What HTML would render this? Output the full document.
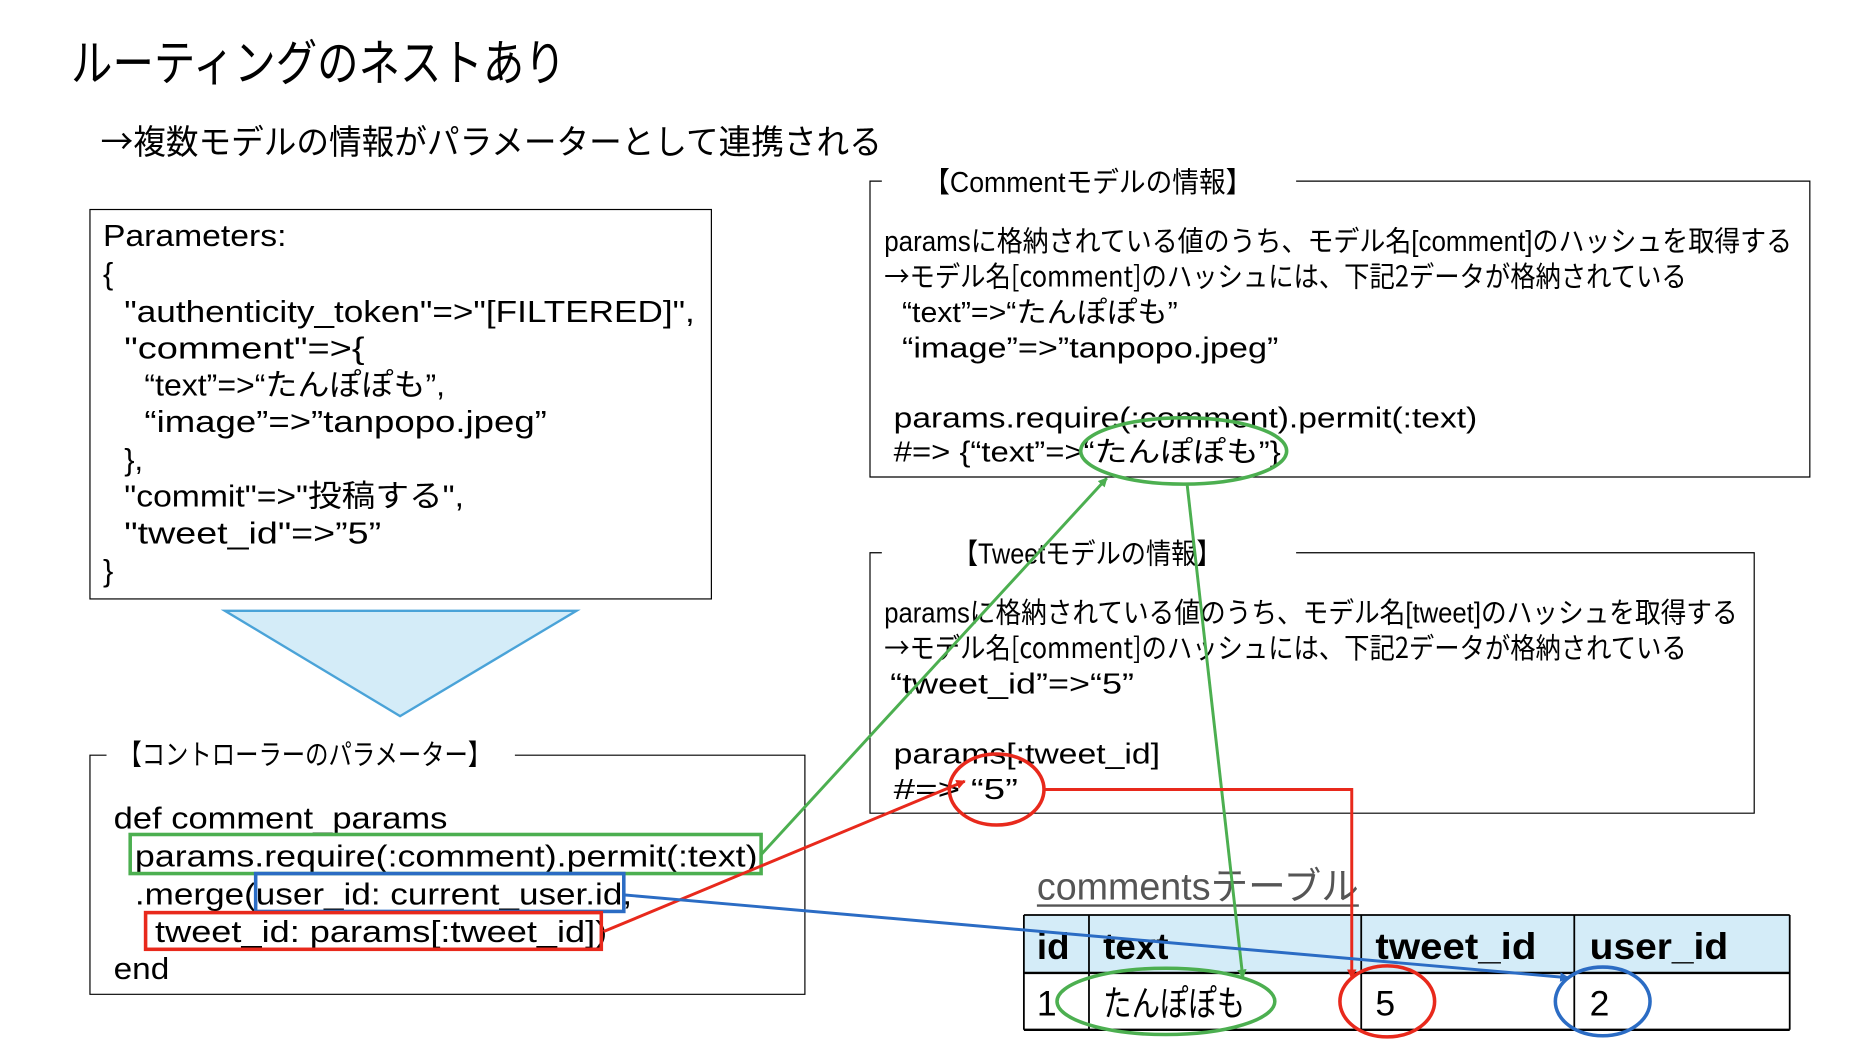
<!DOCTYPE html>
<html><head><meta charset="utf-8"><style>
html,body{margin:0;padding:0;background:#fff;}
svg{display:block;}
text{font-family:"Liberation Sans","Noto Sans CJK JP",sans-serif;fill:#000;}
.cj{font-family:"Noto Sans CJK JP",sans-serif;}
</style></head><body>
<svg width="1856" height="1044" viewBox="0 0 1568 882" preserveAspectRatio="none" xmlns="http://www.w3.org/2000/svg">
<defs>
<marker id="ag" markerWidth="8" markerHeight="8" refX="7" refY="4" orient="auto" markerUnits="userSpaceOnUse"><path d="M0,0 L8,4 L0,8 z" fill="#4caf50"/></marker>
<marker id="ar" markerWidth="8" markerHeight="8" refX="7" refY="4" orient="auto" markerUnits="userSpaceOnUse"><path d="M0,0 L8,4 L0,8 z" fill="#e8291c"/></marker>
<marker id="ab" markerWidth="8" markerHeight="8" refX="7" refY="4" orient="auto" markerUnits="userSpaceOnUse"><path d="M0,0 L8,4 L0,8 z" fill="#2b6cc4"/></marker>
</defs>
<text x="60" y="68" font-size="42" textLength="418" lengthAdjust="spacingAndGlyphs">ルーティングのネストあり</text>
<text x="85" y="130" font-size="29" class="cj" textLength="660" lengthAdjust="spacingAndGlyphs">→複数モデルの情報がパラメーターとして連携される</text>

<rect x="76" y="177" width="525" height="329" fill="none" stroke="#000" stroke-width="1"/>
<g font-size="26">
<text x="87" y="208" textLength="155" lengthAdjust="spacingAndGlyphs">Parameters:</text>
<text x="87" y="240">{</text>
<text x="105" y="272" textLength="482" lengthAdjust="spacingAndGlyphs">"authenticity_token"=>"[FILTERED]",</text>
<text x="105" y="303" textLength="203" lengthAdjust="spacingAndGlyphs">"comment"=>{</text>
<text x="122" y="334" textLength="254" lengthAdjust="spacingAndGlyphs">“text”=>“たんぽぽも”,</text>
<text x="122" y="365" textLength="340" lengthAdjust="spacingAndGlyphs">“image”=>”tanpopo.jpeg”</text>
<text x="105" y="397">},</text>
<text x="105" y="428" textLength="287" lengthAdjust="spacingAndGlyphs">"commit"=>"投稿する",</text>
<text x="105" y="459" textLength="217" lengthAdjust="spacingAndGlyphs">"tweet_id"=>”5”</text>
<text x="87" y="491">}</text>
</g>
<polygon points="190,516 487,516 338,605" fill="#d4ecf8" stroke="#4aa3d8" stroke-width="2"/>

<path d="M90,638 L76,638 L76,840 L680,840 L680,638 L435,638" fill="none" stroke="#000" stroke-width="1"/>
<text x="100" y="646" font-size="24" textLength="315" lengthAdjust="spacingAndGlyphs">【コントローラーのパラメーター】</text>
<g font-size="26">
<text x="96" y="700" textLength="282" lengthAdjust="spacingAndGlyphs">def comment_params</text>
<text x="114" y="732" textLength="526" lengthAdjust="spacingAndGlyphs">params.require(:comment).permit(:text)</text>
<text x="114" y="764" textLength="420" lengthAdjust="spacingAndGlyphs">.merge(user_id: current_user.id,</text>
<text x="131" y="796" textLength="382" lengthAdjust="spacingAndGlyphs">tweet_id: params[:tweet_id])</text>
<text x="96" y="827" textLength="47" lengthAdjust="spacingAndGlyphs">end</text>
</g>
<rect x="110" y="705" width="533" height="33" fill="none" stroke="#4caf50" stroke-width="3"/>
<rect x="216" y="738" width="311" height="32" fill="none" stroke="#2b6cc4" stroke-width="3"/>
<rect x="123" y="771" width="385" height="31" fill="none" stroke="#e8291c" stroke-width="3"/>

<path d="M745,153 L735,153 L735,403 L1529,403 L1529,153 L1095,153" fill="none" stroke="#000" stroke-width="1"/>
<text x="780" y="162" font-size="24" textLength="278" lengthAdjust="spacingAndGlyphs">【Commentモデルの情報】</text>
<g font-size="24">
<text x="747" y="212" textLength="767" lengthAdjust="spacingAndGlyphs">paramsに格納されている値のうち、モデル名[comment]のハッシュを取得する</text>
<text x="747" y="242" class="cj" textLength="678" lengthAdjust="spacingAndGlyphs">→モデル名[comment]のハッシュには、下記2データが格納されている</text>
<text x="762" y="272" textLength="233" lengthAdjust="spacingAndGlyphs">“text”=>“たんぽぽも”</text>
<text x="762" y="302" textLength="318" lengthAdjust="spacingAndGlyphs">“image”=>”tanpopo.jpeg”</text>
<text x="755" y="361" textLength="493" lengthAdjust="spacingAndGlyphs">params.require(:comment).permit(:text)</text>
<text x="755" y="390" textLength="327" lengthAdjust="spacingAndGlyphs">#=> {“text”=>“たんぽぽも”}</text>
</g>

<path d="M745,467 L735,467 L735,687 L1482,687 L1482,467 L1095,467" fill="none" stroke="#000" stroke-width="1"/>
<text x="805" y="476" font-size="24" textLength="227" lengthAdjust="spacingAndGlyphs">【Tweetモデルの情報】</text>
<g font-size="24">
<text x="747" y="526" textLength="721" lengthAdjust="spacingAndGlyphs">paramsに格納されている値のうち、モデル名[tweet]のハッシュを取得する</text>
<text x="747" y="556" class="cj" textLength="678" lengthAdjust="spacingAndGlyphs">→モデル名[comment]のハッシュには、下記2データが格納されている</text>
<text x="752" y="586" textLength="206" lengthAdjust="spacingAndGlyphs">“tweet_id”=>“5”</text>
<text x="755" y="645" textLength="225" lengthAdjust="spacingAndGlyphs">params[:tweet_id]</text>
<text x="755" y="675" textLength="105" lengthAdjust="spacingAndGlyphs">#=> “5”</text>
</g>

<text x="876" y="760" font-size="32" style="fill:#555" textLength="272" lengthAdjust="spacingAndGlyphs">commentsテーブル</text>
<line x1="876" y1="765" x2="1148" y2="765" stroke="#555" stroke-width="2"/>

<rect x="865" y="773" width="647" height="49" fill="#d4ecf8"/>
<g stroke="#000" stroke-width="1.5" fill="none">
<line x1="865" y1="773" x2="1512" y2="773"/>
<line x1="865" y1="822" x2="1512" y2="822" stroke-width="2"/>
<line x1="865" y1="870" x2="1512" y2="870" stroke-width="2"/>
<line x1="865" y1="773" x2="865" y2="870"/>
<line x1="920" y1="773" x2="920" y2="870"/>
<line x1="1150" y1="773" x2="1150" y2="870"/>
<line x1="1330" y1="773" x2="1330" y2="870"/>
<line x1="1512" y1="773" x2="1512" y2="870"/>
</g>
<g font-size="31" font-weight="bold">
<text x="876" y="810">id</text>
<text x="932" y="810">text</text>
<text x="1162" y="810" textLength="136" lengthAdjust="spacingAndGlyphs">tweet_id</text>
<text x="1343" y="810" textLength="117" lengthAdjust="spacingAndGlyphs">user_id</text>
</g>
<g font-size="30">
<text x="876" y="858">1</text>
<text x="932" y="858" textLength="120" lengthAdjust="spacingAndGlyphs">たんぽぽも</text>
<text x="1162" y="858">5</text>
<text x="1343" y="858">2</text>
</g>

<g fill="none" stroke-width="3">
<ellipse cx="1000" cy="381" rx="87" ry="28" stroke="#4caf50"/>
<ellipse cx="842" cy="667" rx="40" ry="30" stroke="#e8291c"/>
<ellipse cx="985" cy="846" rx="92" ry="28" stroke="#4caf50"/>
<ellipse cx="1172" cy="846" rx="40" ry="30" stroke="#e8291c"/>
<ellipse cx="1354" cy="846" rx="40" ry="29" stroke="#2b6cc4"/>
</g>
<g fill="none" stroke-width="2.5">
<line x1="643" y1="722" x2="935" y2="404" stroke="#4caf50" marker-end="url(#ag)"/>
<line x1="1003" y1="410" x2="1050" y2="826" stroke="#4caf50" marker-end="url(#ag)"/>
<line x1="510" y1="787" x2="815" y2="660" stroke="#e8291c" marker-end="url(#ar)"/>
<polyline points="882,667 1142,667 1142,826" stroke="#e8291c" marker-end="url(#ar)"/>
<line x1="527" y1="756" x2="1325" y2="826" stroke="#2b6cc4" marker-end="url(#ab)"/>
</g>
</svg>
</body></html>
